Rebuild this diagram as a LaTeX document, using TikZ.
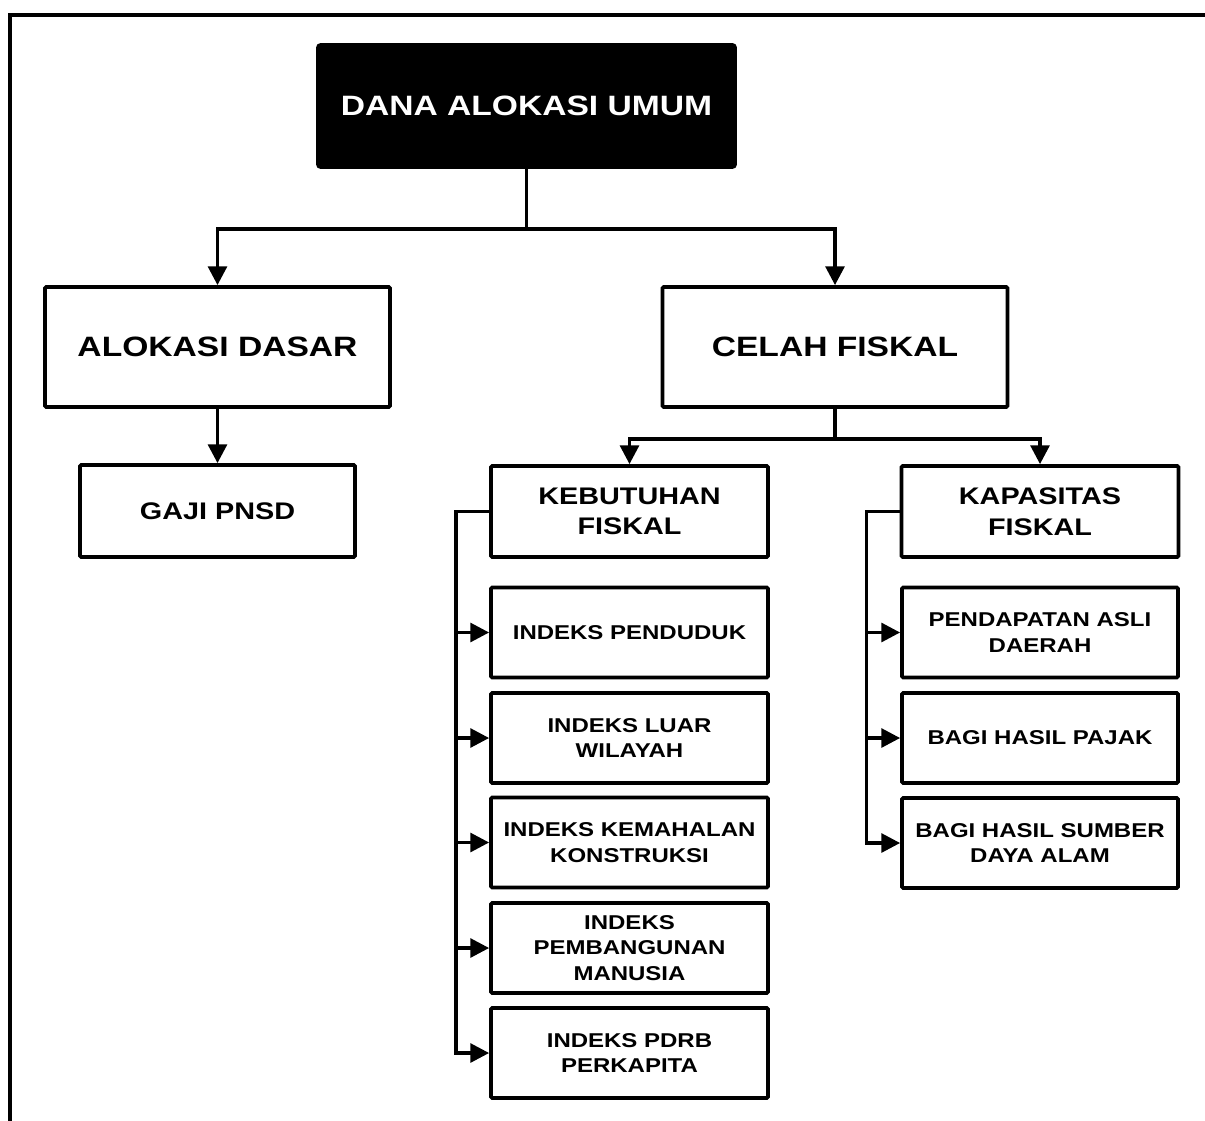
\documentclass[tikz,border=0pt]{standalone}
\usepackage{fontspec}
\setmainfont{Liberation Sans}[FakeStretch=1.2]
\usetikzlibrary{arrows.meta}

\tikzset{
	kotak/.style={draw, line width=2.8pt, rounded corners=1pt, align=center, inner sep=0pt},
	besar/.style={kotak, minimum width=258.75pt, minimum height=90pt, font=\fontsize{21}{25}\selectfont\bfseries},
	sedang/.style={kotak, minimum width=207.75pt, minimum height=68.25pt, font=\fontsize{18}{23}\selectfont\bfseries},
	kecil/.style={kotak, minimum width=207.75pt, minimum height=67.5pt, font=\fontsize{15}{19}\selectfont\bfseries},
	garis/.style={line width=2.6pt, line cap=rect},
	panah/.style={garis, -{Triangle[length=14pt,width=14pt]}},
}

\begin{document}
\begin{tikzpicture}[x=0.75pt, y=-0.75pt, line join=miter]
	\useasboundingbox (0,0) rectangle (1205,1120);
	% bingkai
	\draw[line width=2.8pt] (10,1130) -- (10,15) -- (1215,15);
	% kotak utama
	\node[kotak, fill=black, text=white, minimum width=312.75pt, minimum height=91.5pt, rounded corners=2pt, font=\fontsize{21}{25}\selectfont\bfseries] (dau) at (526.5,106) {DANA ALOKASI UMUM};
	\node[besar] (alok) at (217.5,347) {ALOKASI DASAR};
	\node[besar] (celah) at (835,347) {CELAH FISKAL};
	\node[sedang, minimum width=206.25pt, minimum height=69pt] (gaji) at (217.5,511) {GAJI PNSD};
	\node[sedang] (kebu) at (629.5,511.5) {KEBUTUHAN\\FISKAL};
	\node[sedang] (kapa) at (1040,511.5) {KAPASITAS\\FISKAL};
	% rincian kebutuhan fiskal
	\foreach \nm/\yy/\txt in {pend/632.5/{INDEKS PENDUDUK}, luar/738/{INDEKS LUAR\\WILAYAH}, mahal/842.5/{INDEKS KEMAHALAN\\KONSTRUKSI}, ipm/948/{INDEKS\\PEMBANGUNAN\\MANUSIA}, pdrb/1053/{INDEKS PDRB\\PERKAPITA}}
		\node[kecil] (\nm) at (629.5,\yy) {\txt};
	% rincian kapasitas fiskal
	\foreach \nm/\yy/\txt in {pad/632.5/{PENDAPATAN ASLI\\DAERAH}, bhp/738/{BAGI HASIL PAJAK}, bhsda/843/{BAGI HASIL SUMBER\\DAYA ALAM}}
		\node[kecil, minimum width=207pt] (\nm) at (1040,\yy) {\txt};
	% penghubung
	\draw[garis] (dau.south) -- ++(0,60) coordinate (cab1);
	\draw[panah] (cab1) -| (alok.north);
	\draw[panah] (cab1) -| (celah.north);
	\draw[panah] (alok.south) -- (gaji.north);
	\draw[garis] (celah.south) -- ++(0,30) coordinate (cab2);
	\draw[panah] (cab2) -| (kebu.north);
	\draw[panah] (cab2) -| (kapa.north);
	\draw[garis] (kebu.west) -- ++(-33,0) coordinate (busL) -- (busL |- pdrb.west);
	\foreach \nm in {pend,luar,mahal,ipm,pdrb}
		\draw[panah] (busL |- \nm.west) -- (\nm.west);
	\draw[garis] (kapa.west) -- ++(-33,0) coordinate (busR) -- (busR |- bhsda.west);
	\foreach \nm in {pad,bhp,bhsda}
		\draw[panah] (busR |- \nm.west) -- (\nm.west);
\end{tikzpicture}
\end{document}
